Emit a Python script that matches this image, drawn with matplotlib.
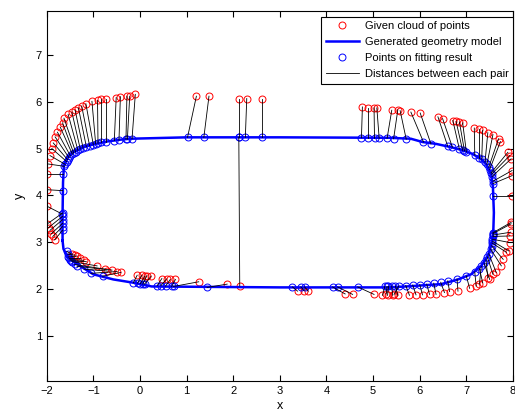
import matplotlib
matplotlib.use("Agg")
import matplotlib.pyplot as plt

# given cloud of points (red) and their matched points on the fitted model (blue)
red_x = [-1.83, -1.87, -1.90, -1.93, -1.96, -2.00, -2.00, -2.00, -2.00,
         -1.97, -1.93, -1.89, -1.86, -1.82, -1.77, -1.71, -1.66, -1.63, -1.54, -1.46, -1.39,
         -1.32, -1.25, -1.16, -1.03, -0.91, -0.84, -0.72, -0.51, -0.42, -0.28, -0.22, -0.10,
         1.21, 1.48, 2.12, 2.29, 2.62, 4.77, 4.89, 5.02, 5.08, 5.40, 5.53, 5.58, 5.81, 6.01,
         6.39, 6.49, 6.71, 6.78, 6.85, 6.92, 7.17, 7.28, 7.35, 7.46, 7.57, 7.69, 7.73, 7.89,
         7.93, 7.96, 7.98, 7.98, 7.98,
         7.96, 7.96, 7.95, 7.93, 7.93, 7.91, 7.86, 7.79, 7.75, 7.64, 7.57, 7.50, 7.46, 7.35,
         7.28, 7.21, 7.07,
         6.82, 6.64, 6.53, 6.35, 6.21, 6.06, 5.92, 5.78, 5.53, 5.45, 5.42, 5.31, 5.28, 5.20,
         5.02, 4.56, 4.40, 3.61, 3.52, 3.38,
         2.14, 1.87, 1.26, 0.76, 0.65, 0.57, 0.47, 0.24, 0.15, 0.10, 0.04, -0.06,
         -0.41, -0.49, -0.60, -0.70, -0.75, -0.92, -1.15, -1.21, -1.28, -1.35, -1.40, -1.46]
red_y = [3.05, 3.12, 3.18, 3.25, 3.31, 3.38, 3.77, 4.12, 4.46,
         4.67, 4.85, 5.00, 5.12, 5.25, 5.35, 5.46, 5.55, 5.65, 5.73, 5.78, 5.82,
         5.87, 5.91, 5.96, 6.01, 6.03, 6.06, 6.07, 6.09, 6.11, 6.12, 6.12, 6.16,
         6.12, 6.12, 6.07, 6.07, 6.05, 5.89, 5.87, 5.87, 5.87, 5.82, 5.83, 5.81, 5.78, 5.76,
         5.68, 5.64, 5.60, 5.58, 5.57, 5.55, 5.44, 5.41, 5.39, 5.34, 5.30, 5.21, 5.15, 4.92,
         4.85, 4.78, 4.53, 4.42, 3.99,
         3.42, 3.39, 3.21, 3.13, 2.99, 2.81, 2.78, 2.63, 2.49, 2.35, 2.31, 2.20, 2.24, 2.13,
         2.10, 2.06, 2.01,
         1.95, 1.94, 1.92, 1.88, 1.88, 1.87, 1.87, 1.86, 1.86, 1.88, 1.86, 1.86, 1.89, 1.86,
         1.88, 1.88, 1.89, 1.95, 1.96, 1.95,
         2.06, 2.10, 2.15, 2.20, 2.20, 2.21, 2.22, 2.27, 2.28, 2.27, 2.29, 2.29,
         2.35, 2.37, 2.40, 2.38, 2.42, 2.49, 2.58, 2.61, 2.65, 2.70, 2.72, 2.74]
fit_x = [-1.66, -1.66, -1.66, -1.66, -1.66, -1.66, -1.67, -1.66, -1.66,
         -1.62, -1.60, -1.57, -1.55, -1.52, -1.49, -1.45, -1.42, -1.38, -1.33, -1.28, -1.22,
         -1.15, -1.08, -1.00, -0.95, -0.90, -0.84, -0.72, -0.55, -0.45, -0.30, -0.27, -0.17,
         1.02, 1.37, 2.12, 2.26, 2.62, 4.75, 4.89, 5.03, 5.13, 5.30, 5.44, 5.71, 6.08, 6.24,
         6.60, 6.70, 6.85, 6.92, 6.96, 7.00, 7.18, 7.28, 7.33, 7.40, 7.44, 7.48, 7.50, 7.53,
         7.54, 7.55, 7.57, 7.57, 7.58,
         7.57, 7.57, 7.57, 7.57, 7.56, 7.56, 7.55, 7.54, 7.52, 7.48, 7.45, 7.38, 7.42, 7.28,
         7.32, 7.18, 7.00,
         6.80, 6.60, 6.45, 6.30, 6.15, 6.00, 5.85, 5.70, 5.48, 5.55, 5.40, 5.33, 5.30, 5.25,
         4.67, 4.24, 4.13, 3.53, 3.45, 3.27,
         2.12, 1.44, 0.72, 0.68, 0.55, 0.45, 0.37, 0.10, 0.06, 0.01, -0.05, -0.14,
         -0.80, -1.05, -1.35, -1.20, -1.40, -1.45, -1.48, -1.50, -1.52, -1.54, -1.55, -1.57]
fit_y = [3.25, 3.33, 3.40, 3.48, 3.55, 3.62, 3.60, 4.10, 4.46,
         4.62, 4.66, 4.72, 4.76, 4.80, 4.84, 4.88, 4.90, 4.93, 4.96, 4.99, 5.01,
         5.04, 5.06, 5.08, 5.10, 5.11, 5.13, 5.15, 5.17, 5.18, 5.20, 5.20, 5.21,
         5.24, 5.24, 5.24, 5.24, 5.24, 5.23, 5.23, 5.22, 5.22, 5.22, 5.21, 5.20, 5.14, 5.10,
         5.05, 5.03, 4.99, 4.96, 4.95, 4.93, 4.86, 4.80, 4.77, 4.71, 4.66, 4.60, 4.55, 4.48,
         4.45, 4.40, 4.30, 4.25, 3.99,
         3.20, 3.18, 3.15, 3.12, 3.06, 3.02, 2.98, 2.92, 2.85, 2.75, 2.68, 2.55, 2.62, 2.43,
         2.48, 2.36, 2.27,
         2.21, 2.17, 2.14, 2.12, 2.10, 2.09, 2.08, 2.07, 2.06, 2.06, 2.06, 2.05, 2.05, 2.05,
         2.04, 2.04, 2.04, 2.04, 2.04, 2.04,
         5.24, 2.03, 2.05, 2.05, 2.06, 2.07, 2.07, 2.10, 2.10, 2.11, 2.12, 2.13,
         2.27, 2.33, 2.48, 2.42, 2.52, 2.58, 2.60, 2.62, 2.65, 2.68, 2.74, 2.80]

# generated geometry model (closed outline)
curve_x = [-1.66, -1.66, -1.65, -1.63, -1.54, -1.43, -1.21, -0.96, -0.71, -0.42, -0.21,
           1.00, 3.00, 5.35, 5.81, 6.06, 6.35, 6.67, 6.90, 7.12, 7.28, 7.41, 7.53, 7.57,
           7.59, 7.58, 7.57, 7.53, 7.46, 7.32, 7.10, 6.82, 6.46, 5.71, 5.30, 3.00, 0.25,
           -0.14, -0.57, -1.00, -1.35, -1.54, -1.64, -1.66]
curve_y = [3.03, 3.60, 4.28, 4.64, 4.82, 4.92, 5.03, 5.10, 5.15, 5.19, 5.21,
           5.24, 5.24, 5.23, 5.21, 5.14, 5.10, 5.03, 4.97, 4.89, 4.80, 4.69, 4.47, 4.17,
           3.63, 3.30, 3.13, 2.92, 2.70, 2.49, 2.31, 2.20, 2.10, 2.05, 2.03, 2.03, 2.05,
           2.13, 2.20, 2.31, 2.53, 2.67, 2.85, 3.03]

plt.rcParams['font.family'] = 'Liberation Sans'
plt.rcParams['font.size'] = 8

fig = plt.figure(figsize=(5.15, 4.16), dpi=100)
ax = fig.add_axes([0.0907, 0.0844, 0.9054, 0.890])

ax.plot(red_x, red_y, 'o', mfc='none', mec='red', ms=5, mew=0.7,
        label='Given cloud of points')
ax.plot(curve_x, curve_y, '-', color='blue', lw=1.8, label='Generated geometry model')
ax.plot(fit_x, fit_y, 'o', mfc='none', mec='blue', ms=5, mew=0.7,
        label='Points on fitting result')
for i in range(len(red_x)):
    ax.plot([red_x[i], fit_x[i]], [red_y[i], fit_y[i]], '-', color='black', lw=0.6,
            label='Distances between each pair' if i == 0 else None)

ax.set_xlim(-2, 8)
ax.set_ylim(0.03, 7.95)
ax.set_xticks(range(-2, 9))
ax.set_yticks(range(1, 8))
ax.tick_params(direction='in', length=4, top=True, right=True, width=0.8)
for s in ax.spines.values():
    s.set_linewidth(0.8)
ax.set_xlabel('x', fontsize=9, labelpad=3)
ax.set_ylabel('y', fontsize=9, labelpad=7)

leg = ax.legend(loc='upper right', bbox_to_anchor=(1.0, 0.984), borderaxespad=0,
                fancybox=False, framealpha=1, edgecolor='black', handlelength=3,
                labelspacing=0.55, handletextpad=0.5, borderpad=0.4, fontsize=8)
leg.get_frame().set_linewidth(0.8)

fig.savefig('out.png', dpi=100)
